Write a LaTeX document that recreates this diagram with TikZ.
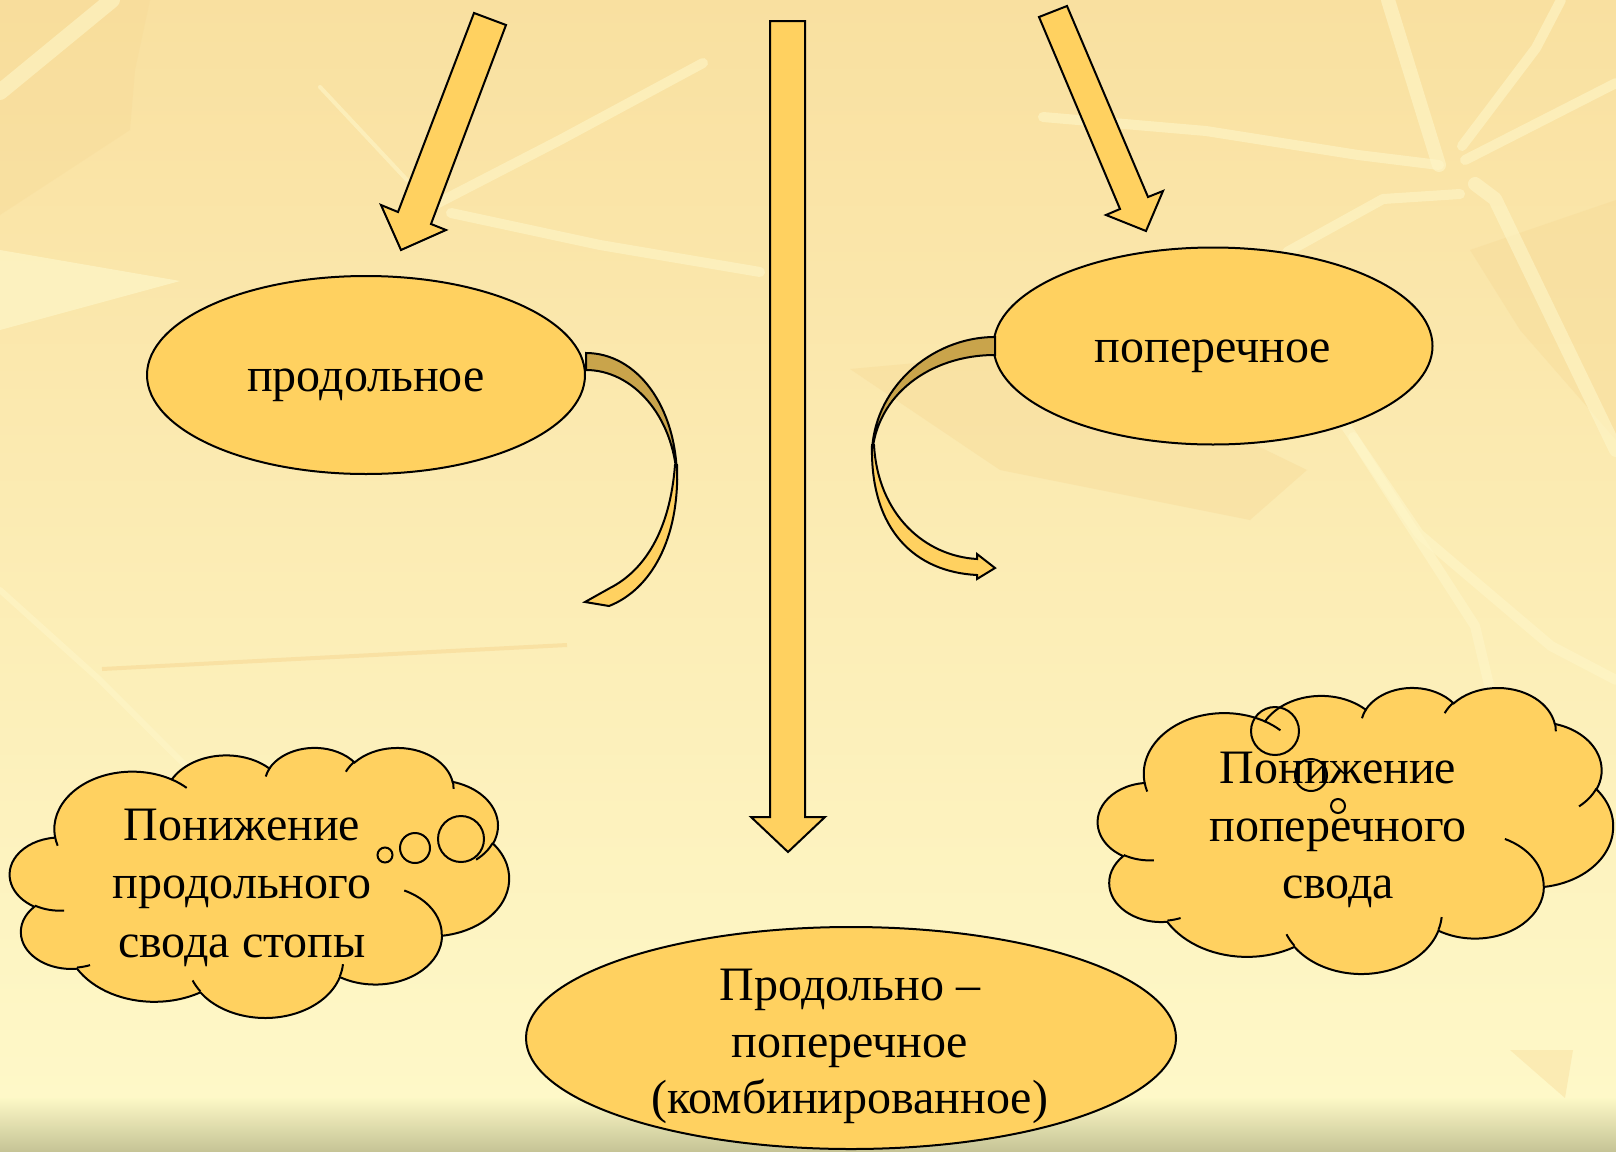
\documentclass[tikz,border=0pt]{standalone}
\usepackage{fontspec}
\setmainfont{Liberation Serif}
\usetikzlibrary{shapes.geometric}
\definecolor{fillY}{HTML}{FFD160}
\definecolor{darkY}{HTML}{C9A44B}
\definecolor{bgA}{HTML}{F9E0A0}
\definecolor{bgB}{HTML}{FEF8C8}
\definecolor{streakC}{HTML}{FEF6C8}
\definecolor{patchC}{HTML}{F7D995}
\definecolor{stripA}{HTML}{FCF8C6}
\definecolor{stripB}{HTML}{C6C496}
\newcommand\txtfont{\fontsize{24pt}{29pt}\selectfont}
\newcommand\cloudoutline{(3.9,14.37)
 [pptarc={6.753}{9.190}{-190.48748}{123.78053}]
 [pptarc={5.333}{7.267}{-144.10238}{89.94523}]
 [pptarc={4.365}{5.945}{-145.80792}{99.72302}]
 [pptarc={4.857}{6.595}{-130.98607}{117.24173}]
 [pptarc={5.333}{7.273}{-78.70888}{109.02692}]
 [pptarc={6.775}{9.220}{-46.26725}{130.269}]
 [pptarc={5.785}{7.867}{0.62502}{114.03333}]
 [pptarc={6.752}{9.215}{22.4516}{115.17255}]
 [pptarc={7.720}{10.543}{66.24263}{75.71102}]
 [pptarc={4.360}{5.918}{-274.94208}{146.73557}]
 [pptarc={4.345}{5.945}{-246.8285}{152.51885}] -- cycle}
\newcommand\cloudcreases{
 (4.693,26.177) [pptarc={4.345}{5.945}{86.742}{26.4295}]
 (6.928,34.899) [pptarc={4.360}{5.918}{73.61047}{11.44747}]
 (16.478,39.090) [pptarc={6.752}{9.215}{137.62415}{14.0811}]
 (28.827,34.751) [pptarc={6.752}{9.215}{6.45327}{15.99835}]
 (34.129,22.954) [pptarc={5.785}{7.867}{-70.29235}{70.91737}]
 (41.798,15.354) [pptarc={5.333}{7.273}{30.31803}{27.7515}]
 (38.324,5.426) [pptarc={4.857}{6.595}{-13.74433}{14.8589}]
 (29.078,3.952) [pptarc={4.857}{6.595}{-149.18145}{18.19537}]
 (22.141,4.720) [pptarc={4.365}{5.945}{-163.49427}{17.68635}]
 (14.000,5.192) [pptarc={6.753}{9.190}{-66.70695}{12.31935}]
 (4.127,15.789) [pptarc={6.753}{9.190}{157.65435}{11.85817}]}
\begin{document}
\begin{tikzpicture}[x=0.5pt, y=-0.5pt,
  shapeline/.style={draw=black, line width=1pt, line join=miter},
  blockarrow/.style={shapeline, fill=fillY},
  oval/.style={ellipse, shapeline, fill=fillY, inner sep=0pt},
  label/.style={anchor=base, inner sep=0pt, font=\txtfont},
  streak/.style={draw=streakC, line width=5pt, opacity=.6, line join=round, line cap=round},
  pptarc/.style n args={4}{insert path={arc[start angle={atan2(#1*sin(#3),#2*cos(#3))}, delta angle={Mod(atan2(#1*sin(#3+#4),#2*cos(#3+#4))-atan2(#1*sin(#3),#2*cos(#3)),360)}, x radius=#1, y radius=#2]}}]
\useasboundingbox (0,0) rectangle (1616,1151);
% background
\shade[top color=bgA, bottom color=bgB] (0,0) rectangle (1616,1098);
\fill[patchC, opacity=.35] (0,0) -- (150,0) -- (135,70) -- (130,130) -- (0,215) -- cycle;
\fill[patchC, opacity=.4] (850,369) -- (1060,350) -- (1307,470) -- (1250,520) -- (1000,470) -- cycle;
\fill[patchC, opacity=.4] (1470,250) -- (1616,200) -- (1616,440) -- (1520,330) -- cycle;
\fill[patchC, opacity=.4] (1510,1050) -- (1573,1050) -- (1565,1098) -- cycle;
\fill[streakC, opacity=.7] (0,250) -- (180,281) -- (0,330) -- cycle;
\draw[streak, line width=8pt] (0,92) -- (112,0);
\draw[streak, line width=2pt] (320,87) -- (407,180);
\draw[streak] (436,204) -- (560,140) -- (703,63);
\draw[streak] (451,213) -- (600,245) -- (760,272);
\draw[streak, line width=7pt] (1388,0) -- (1439,165);
\draw[streak] (1561,0) -- (1536,48) -- (1462,146);
\draw[streak] (1616,83) -- (1465,160);
\draw[streak] (1043,117) -- (1206,131) -- (1358,155) -- (1439,165);
\draw[streak, line width=7pt] (1475,184) -- (1495,199) -- (1616,450);
\draw[streak] (1460,194) -- (1383,199) -- (1287,252);
\draw[streak] (1343,422) -- (1419,534) -- (1551,646) -- (1616,680);
\draw[streak] (1353,437) -- (1475,626) -- (1540,900);
\draw[streak, line width=3pt] (0,590) -- (100,680) -- (210,790);
\draw[draw=patchC, line width=2pt, opacity=.6] (102,669) -- (567,645);
\shade[top color=stripA, bottom color=stripB] (0,1098) rectangle (1616,1151);
% straight block arrows
\draw[blockarrow] (474,13) -- (506,25) -- (431,224) -- (446,230) -- (401,250) -- (381,205) -- (398,212) -- cycle;
\draw[blockarrow] (1039,17) -- (1067,6) -- (1148,197) -- (1163,191) -- (1146,231) -- (1106,215) -- (1120,209) -- cycle;
\draw[blockarrow] (770,21) -- (805,21) -- (805,817) -- (825,817) -- (788,852) -- (751,817) -- (770,817) -- cycle;
% ellipses
\node[oval, minimum width=219pt, minimum height=99pt] (prod) at (366,375) {};
\node[oval, minimum width=219.5pt, minimum height=98.5pt] (pop) at (1213,346) {};
\node[oval, minimum width=325pt, minimum height=111pt] (comb) at (851,1038) {};
\node[label] (prodT) at (366,391) {продольное};
\node[label] (popT) at (1213,362) {поперечное};
\node[label] (combT1) at (850,1000) {Продольно –};
\node[label] (combT2) at (850,1057) {поперечное};
\node[label] (combT3) at (850,1113) {(комбинированное)};
% curved arrows
\draw[shapeline, fill=darkY] (586,353) .. controls (636,353) and (677,405) .. (677,480)
  .. controls (674,415) and (632,370) .. (586,370) -- cycle;
\draw[shapeline, fill=fillY] (677,465) .. controls (680,540) and (650,590) .. (609,606)
  -- (585,602) -- (610,588) .. controls (645,570) and (670,530) .. (675,465) -- cycle;
\draw[shapeline, fill=darkY] (995,337) .. controls (930,337) and (872,390) .. (872,455)
  .. controls (876,395) and (930,355) .. (995,355) -- cycle;
\draw[shapeline, fill=fillY] (872,445) .. controls (870,530) and (915,572) .. (977,575)
  -- (977,579) -- (995,568) -- (977,554) -- (977,559)
  .. controls (925,556) and (878,515) .. (874,445) -- cycle;
% left cloud
\begin{scope}[shift={(10,747)}, x=5.77546pt, y=-3.125pt]
  \fill[fillY] \cloudoutline;
\end{scope}
\fill[fillY] (385,855) circle[radius=3.75pt] (415,848) circle[radius=7.5pt] (461,839) circle[radius=11.5pt];
\begin{scope}[shift={(10,747)}, x=5.77546pt, y=-3.125pt]
  \draw[shapeline] \cloudoutline;
  \draw[shapeline] \cloudcreases;
\end{scope}
\draw[shapeline] (385,855) circle[radius=3.75pt] (415,848) circle[radius=7.5pt] (461,839) circle[radius=11.5pt];
% right cloud
\begin{scope}[shift={(1098,687)}, x=5.96065pt, y=-3.30995pt]
  \fill[fillY] \cloudoutline;
\end{scope}
\fill[fillY] (1275,731) circle[radius=12pt] (1311,775) circle[radius=8pt] (1338,806) circle[radius=3.5pt];
\begin{scope}[shift={(1098,687)}, x=5.96065pt, y=-3.30995pt]
  \draw[shapeline] \cloudoutline;
  \draw[shapeline] \cloudcreases;
\end{scope}
\draw[shapeline] (1275,731) circle[radius=12pt] (1311,775) circle[radius=8pt] (1338,806) circle[radius=3.5pt];
% cloud texts
\node[label] (lc1) at (242,840) {Понижение};
\node[label] (lc2) at (242,898) {продольного};
\node[label] (lc3) at (242,957) {свода стопы};
\node[label] (rc1) at (1338,783) {Понижение};
\node[label] (rc2) at (1338,841) {поперечного};
\node[label] (rc3) at (1338,898) {свода};
\end{tikzpicture}
\end{document}
